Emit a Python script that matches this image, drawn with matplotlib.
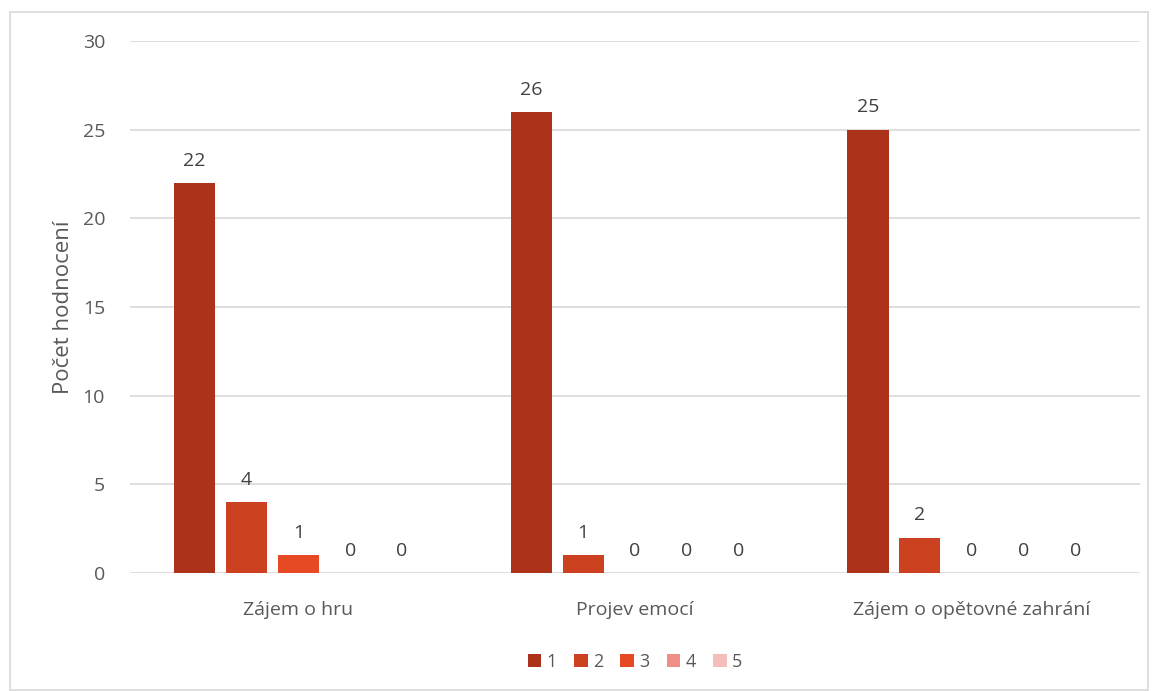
import matplotlib
matplotlib.use("Agg")
import matplotlib.pyplot as plt
from matplotlib.patches import Rectangle
import numpy as np

categories = ["Zájem o hru", "Projev emocí", "Zájem o opětovné zahrání"]
series_names = ["1", "2", "3", "4", "5"]
values = {
    "1": [22, 26, 25],
    "2": [4, 1, 2],
    "3": [1, 0, 0],
    "4": [0, 0, 0],
    "5": [0, 0, 0],
}
colors = ["#AC3219", "#CC4120", "#E64A25", "#EE8E86", "#F4BFBA"]
yticks = [0, 5, 10, 15, 20, 25, 30]

plt.rcParams['font.family'] = ['Open Sans', 'DejaVu Sans']
txt = "#595959"

fig = plt.figure(figsize=(11.58, 6.91), dpi=100)
ax = fig.add_axes([130/1158, 1-573/691, 1010/1158, 532/691])

fig.patches.append(Rectangle((10/1158, 0.002), 1138/1158, 1-12/691-0.002,
                             transform=fig.transFigure, fill=False,
                             edgecolor="#D9D9D9", linewidth=1.2))

x = np.arange(len(categories))
width = 0.122
step = 0.154
for i, name in enumerate(series_names):
    pos = x + (i - 2) * step
    bars = ax.bar(pos, values[name], width=width, color=colors[i], label=name, zorder=3)
    for p, v in zip(pos, values[name]):
        ax.text(p, v + 0.75, str(v), ha="center", va="bottom", fontsize=14, color="#404040")

ax.set_xlim(-0.5, 2.5)
ax.set_ylim(0, 30)
ax.set_yticks(yticks)
ax.set_xticks(x)
ax.set_xticklabels(categories)
ax.grid(axis="y", color="#D9D9D9", linewidth=1.2, zorder=0)
for s in ax.spines.values():
    s.set_visible(False)
ax.tick_params(axis="both", length=0, labelsize=14, labelcolor=txt)
ax.tick_params(axis="y", pad=18)
ax.tick_params(axis="x", pad=20)
ax.set_ylabel("Počet hodnocení", fontsize=16, color=txt, labelpad=6)

ax.legend(loc="upper center", bbox_to_anchor=(0.5, -0.12), ncol=5, frameon=False,
          fontsize=13, labelcolor=txt, handlelength=0.75, handleheight=0.75,
          handletextpad=0.3, columnspacing=0.95)

fig.savefig("out.png", dpi=100)
